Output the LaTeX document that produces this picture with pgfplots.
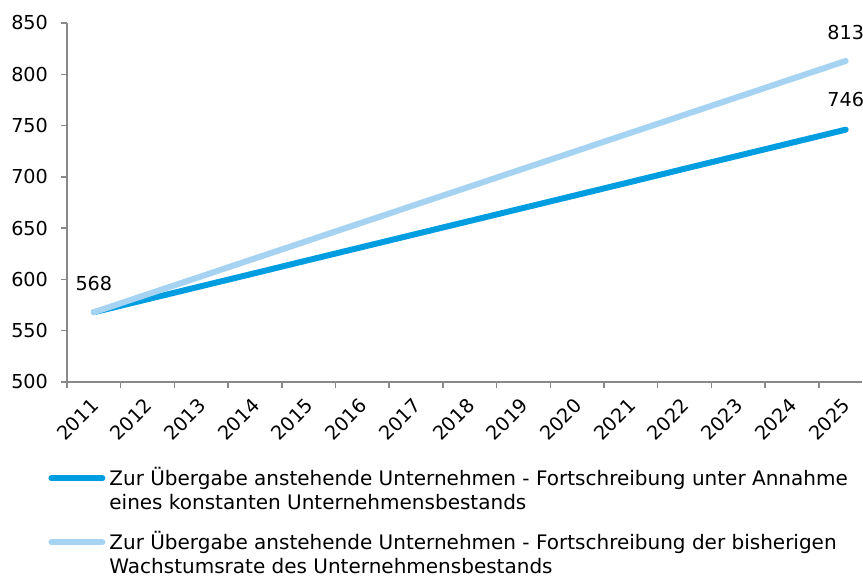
\documentclass[border=0pt]{standalone}
\usepackage{pgfplots}
\pgfplotsset{compat=1.18}
\usepackage{fontspec}
\setmainfont{DejaVu Sans}
\definecolor{dunkelblau}{HTML}{009EE0}
\definecolor{hellblau}{HTML}{A6D3F2}
\definecolor{achse}{HTML}{898989}

\begin{document}
\begin{tikzpicture}[font=\fontsize{9.6}{12}\selectfont]
% page = 863 x 576 px at 0.5 pt/px, axis origin at (67px, 382px)
\useasboundingbox (-33.5pt,-97pt) rectangle (398pt,191pt);
\begin{axis}[
    scale only axis,
    width=397.4pt, height=179.5pt,
    at={(0,0)}, anchor=south west,
    xmin=-0.5, xmax=14.3,
    ymin=500, ymax=850,
    ytick={500,550,...,850},
    xtick={0,...,14},
    xticklabels={2011,2012,2013,2014,2015,2016,2017,2018,2019,2020,2021,2022,2023,2024,2025},
    minor xtick={-0.5,0.5,...,13.5},
    axis x line=bottom, axis y line=left,
    axis line style={-, draw=achse, line width=0.75pt},
    tick style={draw=achse, line width=0.75pt},
    tick align=outside,
    major tick length=3pt, minor tick length=3pt,
    major x tick style={draw=none},
    xticklabel style={rotate=45, anchor=east, xshift=-1.2pt, yshift=-5.4pt},
    yticklabel style={xshift=-3pt},
    /pgf/number format/assume math mode=true,
    clip=false,
    legend cell align=left,
    legend style={draw=none, fill=none, at={(0,0)}, anchor=north west,
        xshift=-11pt, yshift=-41.5pt, inner sep=0pt,
        cells={anchor=base west}, row sep=20.5pt, column sep=0pt,
        font=\fontsize{10}{12}\selectfont,
        nodes={inner sep=0pt, yshift=-3.5pt}},
    legend image code/.code={
        \path (0pt,5pt);
        \draw[#1, line width=3pt, line cap=round] (1.5pt,0pt) -- (27pt,0pt);
        \path (29pt,0pt);
    },
]
\addplot[dunkelblau, line width=3pt, line cap=round] coordinates {
    (0,568) (1,580.7) (2,593.4) (3,606.1) (4,618.9) (5,631.6) (6,644.3) (7,657.0)
    (8,669.7) (9,682.4) (10,695.1) (11,707.9) (12,720.6) (13,733.3) (14,746)};
\addlegendentry{\parbox[t]{380pt}{Zur Übergabe anstehende Unternehmen - Fortschreibung unter Annahme\\eines konstanten Unternehmensbestands}}
\addplot[hellblau, line width=3pt, line cap=round] coordinates {
    (0,568) (1,585.5) (2,603) (3,620.5) (4,638) (5,655.5) (6,673) (7,690.5)
    (8,708) (9,725.5) (10,743) (11,760.5) (12,778) (13,795.5) (14,813)};
\addlegendentry{\parbox[t]{380pt}{Zur Übergabe anstehende Unternehmen - Fortschreibung der bisherigen\\Wachstumsrate des Unternehmensbestands}}
\node at (axis cs:0,568) [yshift=14.5pt] {568};
\node at (axis cs:14,746) [yshift=15pt] {746};
\node at (axis cs:14,813) [yshift=14pt] {813};
\end{axis}
\end{tikzpicture}
\end{document}
